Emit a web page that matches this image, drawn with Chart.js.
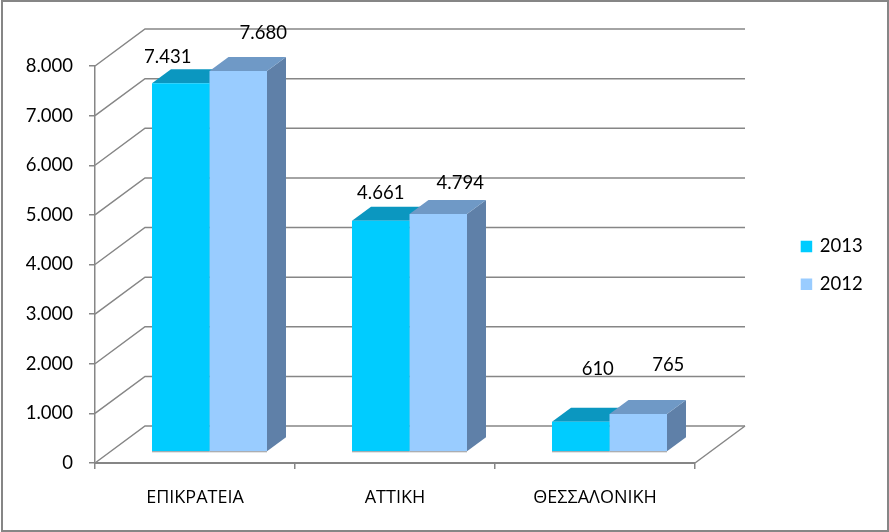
<!DOCTYPE html>
<html>
<head>
<meta charset="utf-8">
<style>
  html, body { margin: 0; padding: 0; background: #fff; }
  canvas { display: block; }
</style>
<script src="https://cdn.jsdelivr.net/npm/chart.js@4"></script>
</head>
<body>
<canvas id="chart" width="889" height="532"></canvas>
<script>
const categories = ['ΕΠΙΚΡΑΤΕΙΑ', 'ΑΤΤΙΚΗ', 'ΘΕΣΣΑΛΟΝΙΚΗ'];
const values2013 = [7431, 4661, 610];
const values2012 = [7680, 4794, 765];

const FONT = 'Lato, "Open Sans", sans-serif';
const GREEK_FONT = '"Open Sans", sans-serif';
const LINE = '#868686';
const WALL = { x: 50, y: -37 };     // depth of the box the chart stands in
const FRONT = { x: 14.5, y: -11 };  // bars stand a little behind the front edge
const DEPTH = { x: 19, y: -14 };    // depth of a bar
const shades = [
    { top: '#0B97C0', side: '#0083A8' },
    { top: '#6F99C6', side: '#5F80A8' },
];
// where excel left the value labels, relative to the bar top
const labelNudge = [
    [[-13, -26], [0, -28], [17, -53]],
    [[25, -38], [22, -31], [30, -49]],
];

const fmt = (v) => String(v).replace(/\B(?=(\d{3})+$)/g, '.');

function poly(c, pts, fill) {
    c.beginPath();
    pts.forEach((p, i) => (i ? c.lineTo(p[0], p[1]) : c.moveTo(p[0], p[1])));
    c.closePath();
    c.fillStyle = fill;
    c.fill();
}

const box3d = {
    id: 'box3d',
    afterLayout(chart) {
        // legend sits in the empty right part, away from the plot
        const l = chart.legend;
        l.left = 783.25;
        l.right = 881;
        l.top = 218;
        l.bottom = 320;
        l.adjustHitBoxes();
    },
    beforeDatasetsDraw(chart) {
        const c = chart.ctx;
        const { left, right, bottom } = chart.chartArea;
        const y = chart.scales.y;

        c.save();
        c.strokeStyle = LINE;
        c.lineWidth = 1.5;
        y.ticks.forEach((t) => {
            const py = y.getPixelForValue(t.value);
            c.beginPath();
            c.moveTo(left, py);
            c.lineTo(left + WALL.x, py + WALL.y);
            c.lineTo(right + WALL.x, py + WALL.y);
            c.stroke();
        });
        c.beginPath();
        c.moveTo(right, bottom);
        c.lineTo(right + WALL.x, bottom + WALL.y);
        c.stroke();

        // tops and sides of the bars, the fronts come from chart.js
        chart.data.datasets.forEach((ds, i) => {
            chart.getDatasetMeta(i).data.forEach((bar) => {
                const x0 = bar.x - bar.width / 2 + FRONT.x;
                const x1 = bar.x + bar.width / 2 + FRONT.x;
                const yt = bar.y + FRONT.y;
                const yb = bar.base + FRONT.y;
                poly(c, [[x1, yt], [x1 + DEPTH.x, yt + DEPTH.y], [x1 + DEPTH.x, yb + DEPTH.y], [x1, yb]], shades[i].side);
                poly(c, [[x0, yt], [x0 + DEPTH.x, yt + DEPTH.y], [x1 + DEPTH.x, yt + DEPTH.y], [x1, yt]], shades[i].top);
            });
        });
        c.restore();

        c.save();
        c.translate(FRONT.x, FRONT.y);
    },
    afterDatasetsDraw(chart) {
        const c = chart.ctx;
        c.restore();

        c.save();
        c.font = '18.5px ' + FONT;
        c.fillStyle = '#000';
        c.textAlign = 'center';
        c.textBaseline = 'middle';
        chart.data.datasets.forEach((ds, i) => {
            chart.getDatasetMeta(i).data.forEach((bar, j) => {
                const n = labelNudge[i][j];
                c.fillText(fmt(ds.data[j]), bar.x + FRONT.x + n[0], bar.y + FRONT.y + n[1]);
                // thin shadow under the bar front
                c.fillStyle = '#999';
                c.fillRect(bar.x - bar.width / 2 + FRONT.x, bar.base + FRONT.y, bar.width, 1);
                c.fillStyle = '#000';
            });
        });
        c.restore();
    },
    afterDraw(chart) {
        const c = chart.ctx;
        c.save();
        c.strokeStyle = LINE;
        c.lineWidth = 2;
        c.strokeRect(2, 1, chart.width - 3, chart.height - 2);
        c.restore();
    },
};

new Chart(document.getElementById('chart'), {
    type: 'bar',
    data: {
        labels: categories,
        datasets: [
            { label: '2013', data: values2013, backgroundColor: '#00CCFF', categoryPercentage: 0.575, barPercentage: 1, clip: false },
            { label: '2012', data: values2012, backgroundColor: '#99CCFF', categoryPercentage: 0.575, barPercentage: 1, clip: false },
        ],
    },
    plugins: [box3d],
    options: {
        responsive: false,
        animation: false,
        layout: { padding: { top: 66, right: 194, left: 0, bottom: 0 } },
        scales: {
            x: {
                afterFit: (s) => { s.height = 69; },
                border: { color: LINE, width: 2 },
                grid: { drawOnChartArea: false, color: LINE, lineWidth: 1.5, tickLength: 6 },
                ticks: { color: '#000', font: { family: GREEK_FONT, size: 18 }, padding: 18, maxRotation: 0 },
            },
            y: {
                min: 0,
                max: 8000,
                afterFit: (s) => { s.width = 95; },
                border: { color: LINE, width: 1.5 },
                grid: { drawOnChartArea: false, color: LINE, lineWidth: 1.5, tickLength: 6 },
                ticks: { stepSize: 1000, color: '#000', font: { family: FONT, size: 18.5 }, padding: 16, callback: (v) => fmt(v) },
            },
        },
        plugins: {
            title: { display: false },
            tooltip: { enabled: false },
            legend: {
                position: 'chartArea',
                align: 'start',
                labels: {
                    boxWidth: 8,
                    boxHeight: 8,
                    padding: 19.2,
                    color: '#000',
                    font: { family: FONT, size: 18.5 },
                    // small box plus same colour stroke, keeps the text close to the swatch
                    generateLabels: (chart) => Chart.defaults.plugins.legend.labels.generateLabels(chart)
                        .map((item) => ({ ...item, lineWidth: 3.5, strokeStyle: item.fillStyle })),
                },
            },
        },
    },
});
</script>
</body>
</html>
